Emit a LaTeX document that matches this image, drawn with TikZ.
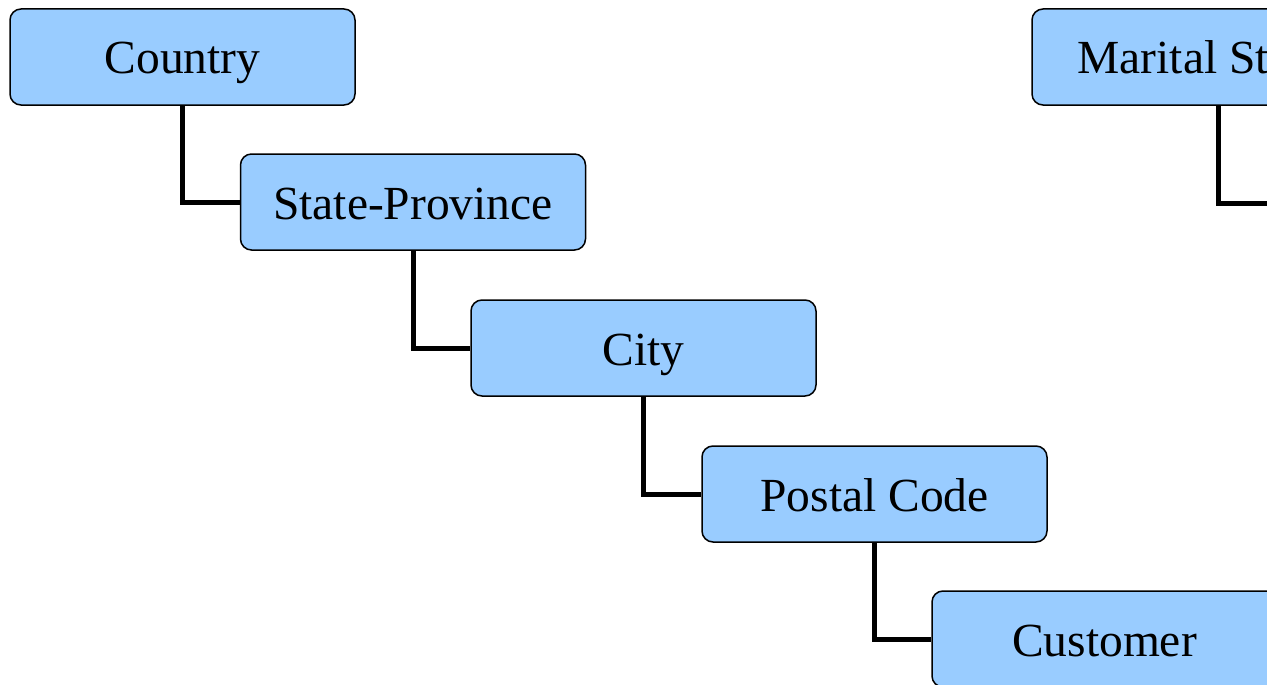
\documentclass[tikz,border=0pt]{standalone}
\usepackage{fontspec}
\setmainfont{Liberation Serif}
\definecolor{boxblue}{HTML}{99CCFF}
\begin{document}
\begin{tikzpicture}[x=1pt,y=-1pt,
  level/.style={draw=black, line width=1.5pt, fill=boxblue, rounded corners=11pt,
    minimum width=345pt, minimum height=96pt, inner sep=0pt,
    text height=34pt, text depth=0pt,
    font=\fontsize{47.5}{57}\selectfont},
  link/.style={line width=5pt, line join=miter}]
\useasboundingbox (0,0) rectangle (1267,685);
\clip (0,0) rectangle (1267,685);
% geography hierarchy, each level stepped down and to the right
\node[level] (country)  at (182.5,57)  {Country};
\node[level] (state)    at (413,202)   {State-Province};
\node[level] (city)     at (643.5,348) {City};
\node[level] (postal)   at (874.5,494) {Postal Code};
\node[level] (customer) at (1104.5,639) {Customer};
% second hierarchy on the right
\node[level, minimum width=359pt] (marital) at (1211.5,57) {Marital Status};
\coordinate (maritaldrop) at ([xshift=7pt]marital.south);
\coordinate (maritalnext) at (1320,203);
% elbow connectors from parent bottom to child left side
\draw[link] (country.south) |- (state.west);
\draw[link] (state.south) |- (city.west);
\draw[link] (city.south) |- (postal.west);
\draw[link] (postal.south) |- (customer.west);
\draw[link] (maritaldrop) |- (maritalnext);
\end{tikzpicture}
\end{document}
